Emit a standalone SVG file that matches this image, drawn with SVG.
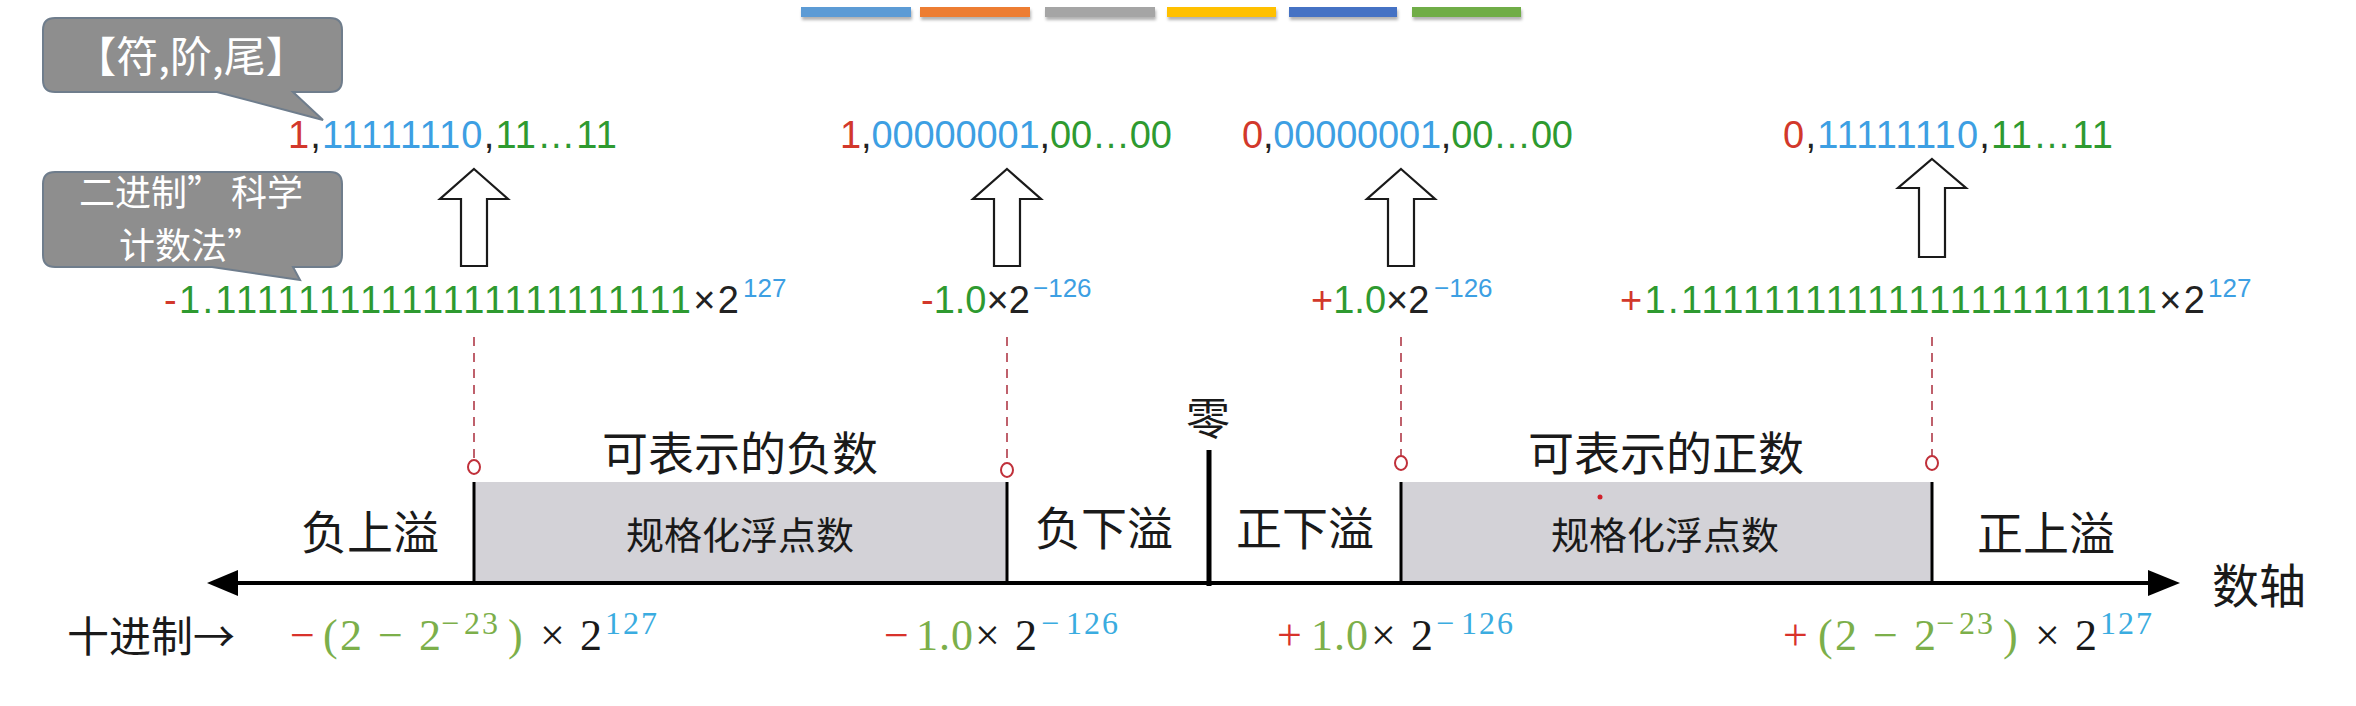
<svg xmlns="http://www.w3.org/2000/svg" width="2356" height="706" viewBox="0 0 2356 706">
<style>
text{font-family:"Liberation Sans",Arial,sans-serif}
.cjk{font-family:"Noto Sans CJK SC","Noto Sans",sans-serif;fill:#1a1a1a}
.call{fill:#8e8e8e;stroke:#6f7d8c;stroke-width:2}
.ct{font-family:"Noto Sans CJK SC",sans-serif;fill:#ffffff;text-anchor:middle}
.bin{font-size:38px}
.sci{font-size:38px}
.r{fill:#d2382b}
.b{fill:#3d9fe3}
.g{fill:#2e9a30}
.k{fill:#222}
.sup{font-size:26px;fill:#3d9fe3}
.m{font-family:"Liberation Serif","Times New Roman",serif;font-size:44px}
.ms{font-size:32px;letter-spacing:2px}
.mr{fill:#d8322b}
.mg{fill:#7caf4a}
.mk{fill:#1a1a1a}
.mb{fill:#3aace0}
.dash{stroke:#b03a48;stroke-width:1.6;stroke-dasharray:9 7;fill:none}
.ring{fill:#fff;stroke:#c0303a;stroke-width:2}
.vl{stroke:#000;stroke-width:3}
.hol{fill:#fff;stroke:#1a1a1a;stroke-width:2.2;stroke-linejoin:miter}
.band{fill:#d3d2d7}
</style>
<defs>
<filter id="sh" x="-10%" y="-50%" width="120%" height="250%">
<feDropShadow dx="1" dy="3" stdDeviation="1.5" flood-color="#000" flood-opacity="0.3"/>
</filter>
</defs>
<rect width="2356" height="706" fill="#ffffff"/>

<g id="colorbars" filter="url(#sh)">
<rect x="801" y="7" width="110" height="10" fill="#5b9bd5"/>
<rect x="920" y="7" width="110" height="10" fill="#ed7d31"/>
<rect x="1045" y="7" width="110" height="10" fill="#a5a5a5"/>
<rect x="1167" y="7" width="109" height="10" fill="#ffc000"/>
<rect x="1289" y="7" width="108" height="10" fill="#4472c4"/>
<rect x="1412" y="7" width="109" height="10" fill="#70ad47"/>
</g>

<g id="callout-format">
<path class="call" d="M55 18 H330 Q342 18 342 30 V80 Q342 92 330 92 H293 L323 120 L217 92 H55 Q43 92 43 80 V30 Q43 18 55 18 Z"/>
<text class="ct" x="191" y="72" font-size="42">【符,阶,尾】</text>
</g>

<g id="callout-sci">
<path class="call" d="M55 172 H330 Q342 172 342 184 V255 Q342 267 330 267 H293 L300 280 L212 267 H55 Q43 267 43 255 V184 Q43 172 55 172 Z"/>
<text class="ct" x="191" y="206" font-size="36">二进制” 科学</text>
<text class="ct" x="191" y="259" font-size="36">计数法”</text>
</g>

<g id="bin-neg-max">
<text class="bin" x="288" y="148" textLength="329" lengthAdjust="spacing"><tspan class="r">1</tspan><tspan class="k">,</tspan><tspan class="b">11111110</tspan><tspan class="k">,</tspan><tspan class="g">11…11</tspan></text>
</g>
<g id="bin-neg-min">
<text class="bin" x="840" y="148" textLength="332" lengthAdjust="spacing"><tspan class="r">1</tspan><tspan class="k">,</tspan><tspan class="b">00000001</tspan><tspan class="k">,</tspan><tspan class="g">00…00</tspan></text>
</g>
<g id="bin-pos-min">
<text class="bin" x="1242" y="148" textLength="331" lengthAdjust="spacing"><tspan class="r">0</tspan><tspan class="k">,</tspan><tspan class="b">00000001</tspan><tspan class="k">,</tspan><tspan class="g">00…00</tspan></text>
</g>
<g id="bin-pos-max">
<text class="bin" x="1783" y="148" textLength="330" lengthAdjust="spacing"><tspan class="r">0</tspan><tspan class="k">,</tspan><tspan class="b">11111110</tspan><tspan class="k">,</tspan><tspan class="g">11…11</tspan></text>
</g>

<g id="sci-neg-max">
<text class="sci" x="164" y="313" textLength="575" lengthAdjust="spacing"><tspan class="r">-</tspan><tspan class="g">1.<tspan>11111</tspan><tspan>11111</tspan><tspan>11111</tspan><tspan>11111</tspan><tspan>111</tspan></tspan><tspan class="k">×2</tspan></text>
<text class="sup" x="743" y="297">127</text>
</g>
<g id="sci-neg-min">
<text class="sci" x="921" y="313"><tspan class="r">-</tspan><tspan class="g">1.0</tspan><tspan class="k">×2</tspan></text>
<text class="sup" x="1033" y="297">−126</text>
</g>
<g id="sci-pos-min">
<text class="sci" x="1311" y="313"><tspan class="r">+</tspan><tspan class="g">1.0</tspan><tspan class="k">×2</tspan></text>
<text class="sup" x="1434" y="297">−126</text>
</g>
<g id="sci-pos-max">
<text class="sci" x="1620" y="313" textLength="585" lengthAdjust="spacing"><tspan class="r">+</tspan><tspan class="g">1.<tspan>11111</tspan><tspan>11111</tspan><tspan>11111</tspan><tspan>11111</tspan><tspan>111</tspan></tspan><tspan class="k">×2</tspan></text>
<text class="sup" x="2208" y="297">127</text>
</g>

<g id="band-neg">
<rect class="band" x="474" y="482" width="533" height="101"/>
<text class="cjk" x="740" y="549" font-size="38" text-anchor="middle">规格化浮点数</text>
<text class="cjk" x="740" y="470" font-size="46" text-anchor="middle">可表示的负数</text>
</g>
<g id="band-pos">
<rect class="band" x="1401" y="482" width="531" height="101"/>
<text class="cjk" x="1665" y="549" font-size="38" text-anchor="middle">规格化浮点数</text>
<text class="cjk" x="1666" y="470" font-size="46" text-anchor="middle">可表示的正数</text>
<circle cx="1600" cy="497" r="2.5" fill="#d0202a"/>
</g>
<g id="neg-overflow">
<text class="cjk" x="370" y="549" font-size="46" text-anchor="middle">负上溢</text>
</g>
<g id="neg-underflow">
<text class="cjk" x="1104" y="545" font-size="46" text-anchor="middle">负下溢</text>
</g>
<g id="pos-underflow">
<text class="cjk" x="1305" y="545" font-size="46" text-anchor="middle">正下溢</text>
</g>
<g id="pos-overflow">
<text class="cjk" x="2046" y="550" font-size="46" text-anchor="middle">正上溢</text>
</g>
<g id="zero">
<line x1="1209" y1="450" x2="1209" y2="586" stroke="#000" stroke-width="5"/>
<text class="cjk" x="1208" y="435" font-size="44" text-anchor="middle">零</text>
</g>
<g id="axis-label">
<text class="cjk" x="2259" y="603" font-size="47" text-anchor="middle">数轴</text>
</g>
<g id="decimal-label">
<text class="cjk" x="67" y="652" font-size="42" fill="#333">十进制→</text>
</g>

<g id="dec-neg-max">
<text class="m" y="650"><tspan class="mr" x="290">−</tspan><tspan class="mg" x="323">(</tspan><tspan class="mg" x="340">2</tspan><tspan class="mg" x="378">−</tspan><tspan class="mg" x="419">2</tspan><tspan class="mg ms" x="441" y="634">−</tspan><tspan class="mg ms" x="464" y="634">23</tspan><tspan class="mg" x="508" y="650">)</tspan><tspan class="mk" x="540">×</tspan><tspan class="mk" x="580">2</tspan><tspan class="mb ms" x="605" y="634">127</tspan></text>
</g>
<g id="dec-neg-min">
<text class="m" y="650"><tspan class="mr" x="884">−</tspan><tspan class="mg" x="916" letter-spacing="1">1.0</tspan><tspan class="mk" x="975">×</tspan><tspan class="mk" x="1015">2</tspan><tspan class="mb ms" x="1041" y="634">−</tspan><tspan class="mb ms" x="1066" y="634">126</tspan></text>
</g>
<g id="dec-pos-min">
<text class="m" y="650"><tspan class="mr" x="1277">+</tspan><tspan class="mg" x="1311" letter-spacing="1">1.0</tspan><tspan class="mk" x="1371">×</tspan><tspan class="mk" x="1411">2</tspan><tspan class="mb ms" x="1436" y="634">−</tspan><tspan class="mb ms" x="1461" y="634">126</tspan></text>
</g>
<g id="dec-pos-max">
<text class="m" y="650"><tspan class="mr" x="1783">+</tspan><tspan class="mg" x="1818">(</tspan><tspan class="mg" x="1835">2</tspan><tspan class="mg" x="1873">−</tspan><tspan class="mg" x="1914">2</tspan><tspan class="mg ms" x="1936" y="634">−</tspan><tspan class="mg ms" x="1959" y="634">23</tspan><tspan class="mg" x="2003" y="650">)</tspan><tspan class="mk" x="2035">×</tspan><tspan class="mk" x="2075">2</tspan><tspan class="mb ms" x="2100" y="634">127</tspan></text>
</g>

<g id="connectors">
<line x1="230" y1="583" x2="2155" y2="583" stroke="#000" stroke-width="4"/>
<polygon points="207,583 238,570 238,596" fill="#000"/>
<polygon points="2180,583 2148,570 2148,596" fill="#000"/>
<line class="vl" x1="474" y1="482" x2="474" y2="584"/>
<line class="vl" x1="1007" y1="482" x2="1007" y2="584"/>
<line class="vl" x1="1401" y1="482" x2="1401" y2="584"/>
<line class="vl" x1="1932" y1="482" x2="1932" y2="584"/>
<line class="dash" x1="474" y1="337" x2="474" y2="460"/>
<line class="dash" x1="1007" y1="337" x2="1007" y2="463"/>
<line class="dash" x1="1401" y1="337" x2="1401" y2="456"/>
<line class="dash" x1="1932" y1="337" x2="1932" y2="456"/>
<ellipse class="ring" cx="474" cy="467" rx="6" ry="7"/>
<ellipse class="ring" cx="1007" cy="470" rx="6" ry="7"/>
<ellipse class="ring" cx="1401" cy="463" rx="6" ry="7"/>
<ellipse class="ring" cx="1932" cy="463" rx="6" ry="7"/>
<polygon class="hol" points="474,169 508,199 487,199 487,266 461,266 461,199 440,199"/>
<polygon class="hol" points="1007,169 1041,199 1020,199 1020,266 994,266 994,199 973,199"/>
<polygon class="hol" points="1401,169 1435,199 1414,199 1414,266 1388,266 1388,199 1367,199"/>
<polygon class="hol" points="1932,159 1966,188 1945,188 1945,257 1919,257 1919,188 1898,188"/>
</g>
</svg>
